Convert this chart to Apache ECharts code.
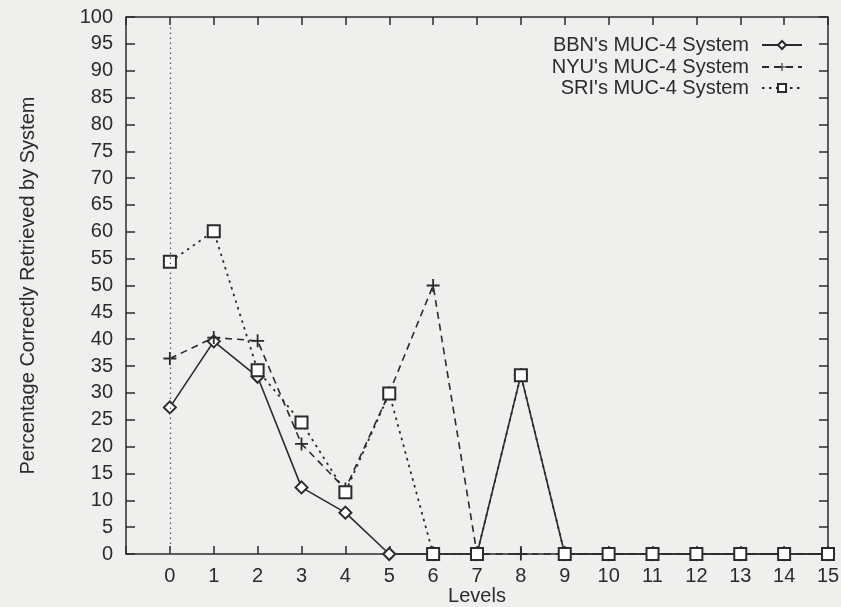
<!DOCTYPE html>
<html>
<head>
<meta charset="utf-8">
<script src="https://cdn.jsdelivr.net/npm/echarts@6/dist/echarts.min.js"></script>
<style>
html,body{margin:0;padding:0;background:#efefed;}
#chart{width:841px;height:607px;}
</style>
</head>
<body>
<div id="chart"></div>
<script>
const levels = [0, 1, 2, 3, 4, 5, 6, 7, 8, 9, 10, 11, 12, 13, 14, 15];
const bbnValues = [27.3, 39.6, 33.0, 12.4, 7.7, 0, 0, 0, 33.3, 0, 0, 0, 0, 0, 0, 0];
const nyuValues = [36.4, 40.3, 39.7, 20.5, 12.1, 30.0, 50.0, 0, 0, 0, 0, 0, 0, 0, 0, 0];
const sriValues = [54.4, 60.1, 34.2, 24.5, 11.5, 29.9, 0, 0, 33.3, 0, 0, 0, 0, 0, 0, 0];
const seriesNames = ["BBN's MUC-4 System", "NYU's MUC-4 System", "SRI's MUC-4 System"];

const ink = '#2b2b2b';
const font = 'Liberation Sans, Arial, Helvetica, sans-serif';
const pair = vals => levels.map((l, i) => [l, vals[i]]);
const plusPath = 'path://M4.3,0H5.7V4.3H10V5.7H5.7V10H4.3V5.7H0V4.3H4.3Z';

function legendFor(name, top) {
  return {
    data: [name], right: 38, top: top, orient: 'vertical', align: 'right',
    itemWidth: 40, itemHeight: 10, padding: 0, selectedMode: false,
    textStyle: { fontFamily: font, fontSize: 20, color: ink, padding: [0, 8, 0, 0], lineHeight: 20 }
  };
}

const chart = echarts.init(document.getElementById('chart'), null, { renderer: 'canvas' });
chart.setOption({
  backgroundColor: '#efefed',
  animation: false,
  grid: { left: 126, right: 13, top: 17, bottom: 53, containLabel: false, outerBoundsMode: 'none', show: true, borderColor: ink, borderWidth: 1.5, backgroundColor: 'transparent' },
  legend: [legendFor(seriesNames[0], 35), legendFor(seriesNames[1], 57), legendFor(seriesNames[2], 78)],
  xAxis: [{
    type: 'value', min: -1, max: 15, interval: 1,
    name: 'Levels', nameLocation: 'middle', nameGap: 32, nameMoveOverlap: false,
    nameTextStyle: { fontFamily: font, fontSize: 20, color: ink },
    axisLine: { show: false, onZero: false },
    axisTick: { show: true, inside: true, length: 8, lineStyle: { color: ink, width: 1.5 } },
    axisLabel: { fontFamily: font, fontSize: 20, color: ink, margin: 12, formatter: v => v < 0 ? '' : String(v) },
    splitLine: { show: false }
  }, {
    type: 'value', position: 'top', min: -1, max: 15, interval: 1,
    axisLine: { show: false, onZero: false },
    axisTick: { show: true, inside: true, length: 8, lineStyle: { color: ink, width: 1.5 } },
    axisLabel: { show: false }, splitLine: { show: false }
  }],
  yAxis: [{
    type: 'value', min: 0, max: 100, interval: 5,
    name: 'Percentage Correctly Retrieved by System', nameLocation: 'middle', nameGap: 88, nameMoveOverlap: false,
    nameTextStyle: { fontFamily: font, fontSize: 20, color: ink },
    axisLine: { show: false, onZero: false },
    axisTick: { show: true, inside: true, length: 9, lineStyle: { color: ink, width: 1.5 } },
    axisLabel: { fontFamily: font, fontSize: 20, color: ink, margin: 13 },
    splitLine: { show: false }
  }, {
    type: 'value', position: 'right', min: 0, max: 100, interval: 5,
    axisLine: { show: false, onZero: false },
    axisTick: { show: true, inside: true, length: 9, lineStyle: { color: ink, width: 1.5 } },
    axisLabel: { show: false }, splitLine: { show: false }
  }],
  series: [{
    name: seriesNames[0], type: 'line', data: pair(bbnValues), clip: false,
    symbol: 'emptyDiamond', symbolSize: 12, showAllSymbol: true,
    lineStyle: { color: ink, width: 1.6, type: 'solid' },
    itemStyle: { color: ink, borderColor: ink, borderWidth: 1.5 },
    markLine: {
      silent: true, symbol: ['none', 'none'], label: { show: false },
      lineStyle: { color: '#555', width: 1.2, type: [1.5, 3.5] },
      data: [{ xAxis: 0 }]
    }
  }, {
    name: seriesNames[1], type: 'line', data: pair(nyuValues), clip: false,
    symbol: plusPath, symbolSize: 13, showAllSymbol: true,
    lineStyle: { color: ink, width: 1.6, type: [7, 5] },
    itemStyle: { color: ink, borderWidth: 0 }
  }, {
    name: seriesNames[2], type: 'line', data: pair(sriValues), clip: false,
    symbol: 'emptyRect', symbolSize: 12, showAllSymbol: true,
    lineStyle: { color: ink, width: 1.8, type: [2.5, 4.5] },
    itemStyle: { color: ink, borderColor: ink, borderWidth: 1.6 }
  }]
});
</script>
</body>
</html>
